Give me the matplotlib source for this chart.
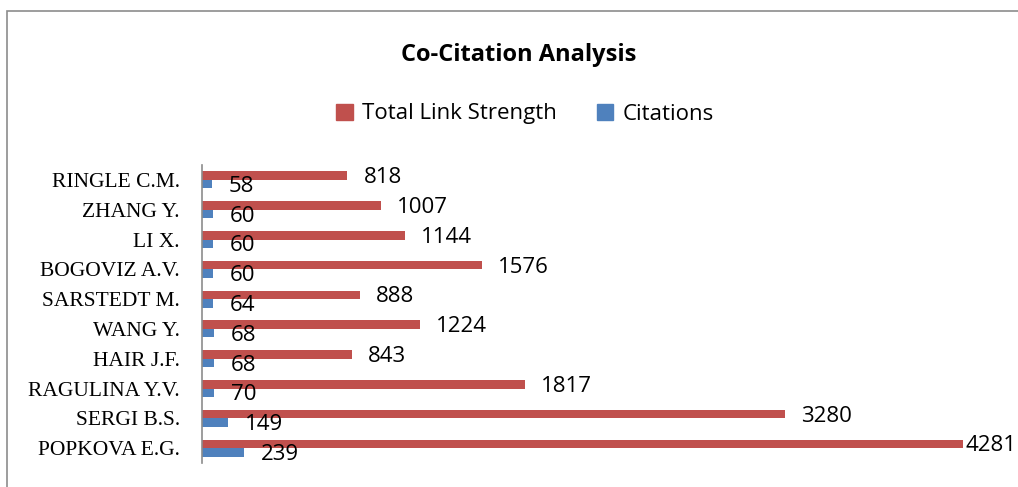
import matplotlib.pyplot as plt
from matplotlib.patches import Rectangle, Patch

# 共被引作者数据（从上到下）
authors = ["RINGLE C.M.", "ZHANG Y.", "LI X.", "BOGOVIZ A.V.", "SARSTEDT M.",
           "WANG Y.", "HAIR J.F.", "RAGULINA Y.V.", "SERGI B.S.", "POPKOVA E.G."]
link_strength = [818, 1007, 1144, 1576, 888, 1224, 843, 1817, 3280, 4281]
citations = [58, 60, 60, 60, 64, 68, 68, 70, 149, 239]

RED = "#C0504D"
BLUE = "#4F81BD"
NUM_FONT = "Open Sans"

fig = plt.figure(figsize=(10.18, 4.87), dpi=100)

# 图表外框（右侧和底部超出画布）
fig.patches.append(Rectangle((7 / 1018, -0.1), 1.2, 1.1 - 11 / 487,
                             transform=fig.transFigure, fill=False,
                             edgecolor="#8c8c8c", linewidth=1.2))

ax = fig.add_axes([202 / 1018, 1 - 463 / 487, 800 / 1018, 298 / 487])

n = len(authors)
pos = list(range(n))[::-1]   # 第一个作者在最上面
h = 0.285

ax.barh([p + h / 2 for p in pos], link_strength, height=h, color=RED,
        label="Total Link Strength")
ax.barh([p - h / 2 for p in pos], citations, height=h, color=BLUE,
        label="Citations")

# 数值标签
labels = []
for p, v in zip(pos, link_strength):
    labels.append(ax.annotate(str(v), (v, p + h / 2), xytext=(11.5, -1.5),
                              textcoords="offset points", va="center", ha="left",
                              fontsize=16, family=NUM_FONT, annotation_clip=False))
for p, v in zip(pos, citations):
    ax.annotate(str(v), (v, p - h / 2), xytext=(12, -1.5),
                textcoords="offset points", va="center", ha="left",
                fontsize=16, family=NUM_FONT, annotation_clip=False)

ax.set_xlim(0, 4500)
ax.set_ylim(-0.5, n - 0.5)
ax.set_yticks(pos)
ax.set_yticklabels(authors, family="Liberation Serif", fontsize=15.5)
ax.tick_params(axis="y", length=0, pad=16)
ax.set_xticks([])
for s in ["top", "right", "bottom"]:
    ax.spines[s].set_visible(False)
ax.spines["left"].set_color("#8c8c8c")
ax.spines["left"].set_linewidth(1.2)
ax.patch.set_alpha(0)

fig.text(519 / 1018, 1 - 55 / 487, "Co-Citation Analysis", ha="center",
         va="center", fontsize=17, fontweight="bold", family=NUM_FONT)

handles = [Patch(color=RED, label="Total Link Strength"),
           Patch(color=BLUE, label="Citations")]
fig.legend(handles=handles, loc="center", bbox_to_anchor=(525 / 1018, 1 - 114 / 487),
           ncol=2, frameon=False, handlelength=0.75, handleheight=0.75,
           handletextpad=0.4, columnspacing=1.8,
           prop={"family": NUM_FONT, "size": 16})

# 超出画布右边的标签往左推
fig.canvas.draw()
renderer = fig.canvas.get_renderer()
W = fig.bbox.width
for t in labels:
    bb = t.get_window_extent(renderer)
    if bb.x1 > W - 2:
        dx = (bb.x1 - (W - 2)) * 72 / fig.dpi
        x0, y0 = t.xyann
        t.xyann = (x0 - dx, y0)

fig.savefig("out.png", dpi=100)
